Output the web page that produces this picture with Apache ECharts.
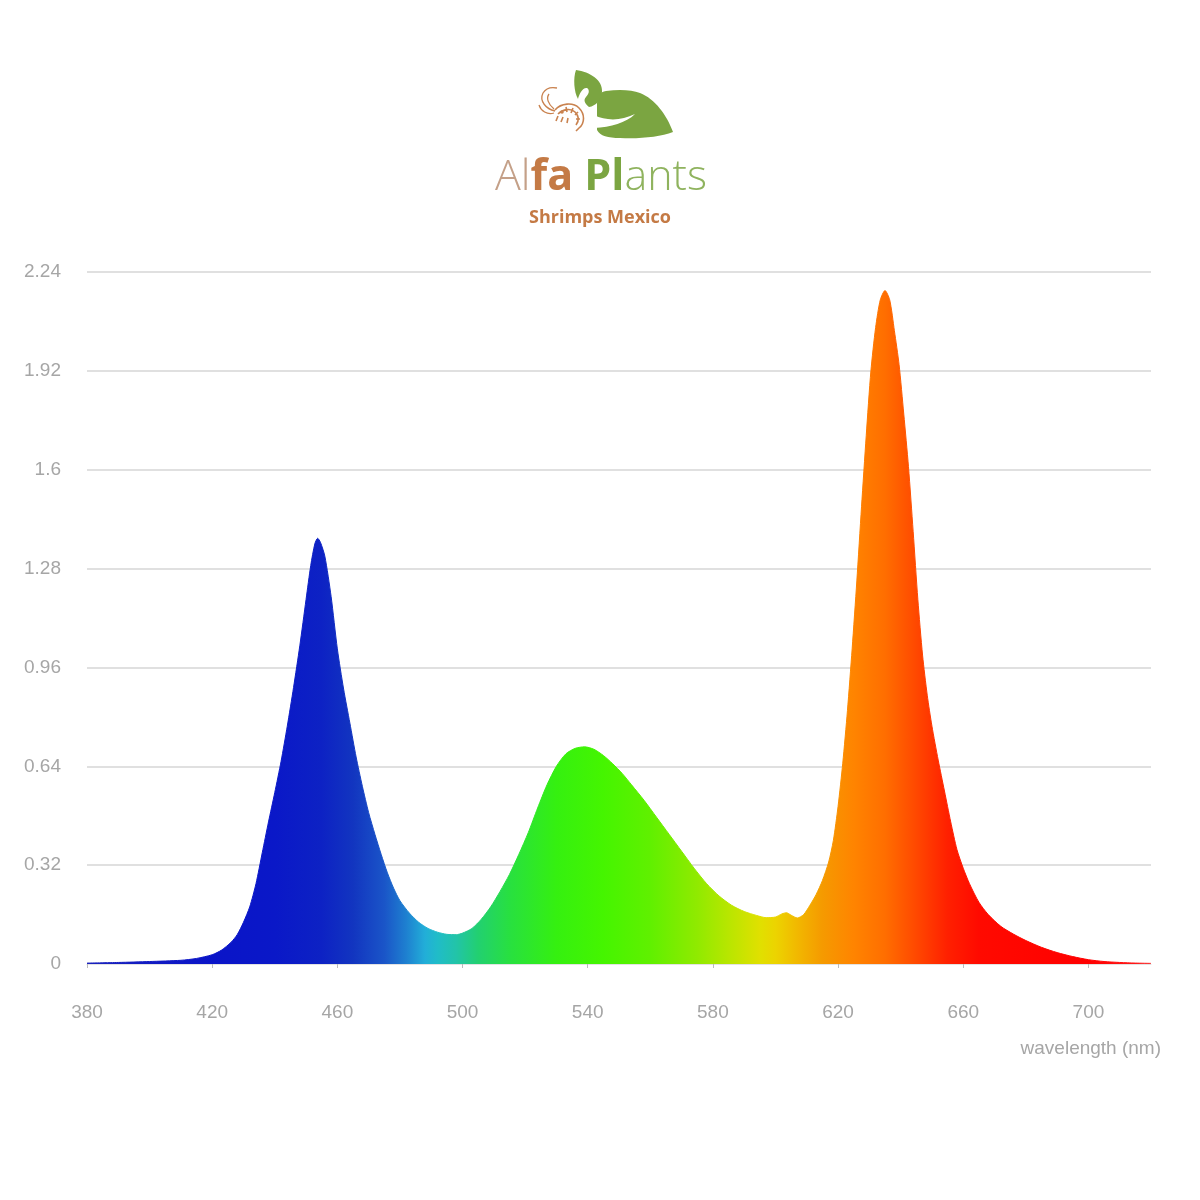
<!DOCTYPE html>
<html>
<head>
<meta charset="utf-8">
<script src="https://cdn.jsdelivr.net/npm/echarts@6/dist/echarts.min.js"></script>
<style>html,body{margin:0;padding:0;background:#fff}#c{width:1200px;height:1200px}</style>
</head>
<body>
<div id="c"></div>
<script>
// Wavelength (nm)
const wavelengths = [380,390,400,410,415,420,423,426,428,430,432,434,436,438,440,442,444,446,448,450,451.5,452.8,453.7,454.6,456,458,460,462,464,466,468,470,472,474,476,478,480,483,486,489,492,495,498,500,503,506,509,512,515,518,521,524,527,530,533,536,539,542,545,548,551,554,558,562,566,570,574,578,582,586,590,594,597,600,602,603.5,605,607,609,611,613,615,617,618.5,620,621.5,623,624.5,626,627.5,629,630.5,632,633.5,635,636.5,638,639.5,641,642.5,644,645.5,647,648.5,650,652,654,656,658,660,662,665,668,672,676,680,685,690,695,700,705,710,715,720];
// Relative intensity
const intensity = [0.003,0.005,0.008,0.012,0.018,0.03,0.045,0.07,0.095,0.135,0.185,0.26,0.36,0.46,0.555,0.655,0.77,0.895,1.03,1.18,1.29,1.36,1.378,1.365,1.32,1.19,1.02,0.89,0.78,0.67,0.575,0.49,0.42,0.355,0.295,0.245,0.205,0.165,0.135,0.115,0.103,0.096,0.095,0.10,0.115,0.145,0.185,0.235,0.29,0.355,0.425,0.505,0.58,0.64,0.68,0.698,0.703,0.695,0.675,0.648,0.617,0.58,0.53,0.475,0.42,0.365,0.31,0.26,0.22,0.19,0.17,0.157,0.15,0.152,0.162,0.166,0.158,0.149,0.16,0.19,0.225,0.27,0.33,0.40,0.51,0.65,0.82,1.02,1.24,1.48,1.71,1.92,2.06,2.15,2.18,2.15,2.05,1.94,1.78,1.61,1.40,1.18,1.00,0.87,0.77,0.66,0.56,0.46,0.37,0.31,0.26,0.20,0.16,0.122,0.097,0.076,0.054,0.037,0.024,0.014,0.008,0.005,0.003,0.002];
const xTickLabels = ['380','420','460','500','540','580','620','660','700'];
const yTickLabels = ['0','0.32','0.64','0.96','1.28','1.6','1.92','2.24'];
// spectrum colour stops (nm, colour)
const stopNm = [380,420,440,455,465,475,482,488,492,498,505,515,530,545,560,575,585,595,600,608,615,625,635,645,655,665,700,720];
const stopColor = ['#1a22bc','#0a14c8','#0a18c8','#0d22c4','#1235c0','#1a55c8','#1e80d0','#22aed8','#20bcc8','#22c4a8','#22d070','#28e040','#35f010','#45f500','#60f000','#90ea00','#b8e600','#e0e000','#ecd400','#f2b400','#f59a00','#ff8400','#ff6e00','#ff4800','#ff2000','#ff0a00','#ff0000','#ff2020'];

const X_MIN = 380, X_MAX = 720;
const data = wavelengths.map((w, i) => [w, intensity[i]]);
const stops = stopNm.map((n, i) => ({offset: (n - X_MIN) / (X_MAX - X_MIN), color: stopColor[i]}));

// logo shapes
const G = echarts.graphic;
G.registerShape('bigLeaf', G.extendPath('M597 104 C597 96 600 92 606 91 C620 89 632 90 640 93 C655 99 667 115 673 132 C660 137 640 139 620 138 C608 138 600 136 597 130 Z', {}));
G.registerShape('leafCut', G.extendPath('M594 115 C606 121 621 121 635 114 C626 123 611 127 594 128 Z', {}));
G.registerShape('smallLeaf', G.extendPath('M576 70 C590 72 603 80 602 92 C601 100 596 106 589 107 C585 104 583 100 586 97 C589 94 590 90 587 88 C583 87 579 94 578 99 C574 92 573 78 576 70 Z', {}));
G.registerShape('shrimpBody', G.extendPath('M555 110 C561 103 573 102 579 108 C585 114 585 123 579 128 L576 131 M558 114 C563 109 571 108 575 112 C579 116 579 121 576 125 M566 107 L567 112 M573 108 L571 113 M578 112 L575 115 M580 119 L576 119 M558 116 L556 121 M563 117 L561 122 M568 118 L567 123', {}));
G.registerShape('shrimpAnt', G.extendPath('M555 111 C546 109 539 101 543 93 C546 88 552 87 557 88 M554 109 C548 104 546 98 549 94 M554 113 C547 115 541 111 539 105', {}));

const chart = echarts.init(document.getElementById('c'));
const labelFont = {color: '#a6a6a6', fontSize: 19, fontFamily: 'Liberation Sans, Arial, sans-serif'};

const option = {
  backgroundColor: '#ffffff',
  animation: false,
  grid: {left: 87, right: 49, top: 272, bottom: 236},
  xAxis: {
    type: 'value', min: X_MIN, max: X_MAX, interval: 40,
    name: 'wavelength (nm)', nameLocation: 'end', nameGap: 10,
    nameTextStyle: Object.assign({}, labelFont, {align: 'right', verticalAlign: 'top', padding: [75, 0, 0, 0]}),
    axisLine: {show: true, lineStyle: {color: '#e2e2e2', width: 1}},
    axisTick: {show: true, length: 4, lineStyle: {color: '#bbbbbb'}},
    splitLine: {show: false},
    axisLabel: Object.assign({}, labelFont, {
      margin: 39, showMaxLabel: false,
      formatter: v => { const i = Math.round((v - X_MIN) / 40); return (Math.abs(v - (X_MIN + i * 40)) < 1e-6 && xTickLabels[i]) ? xTickLabels[i] : ''; }
    })
  },
  yAxis: {
    type: 'value', min: 0, max: 2.24, interval: 0.32,
    axisLine: {show: false}, axisTick: {show: false},
    splitLine: {show: true, lineStyle: {color: '#e0e0e0', width: 2}},
    axisLabel: Object.assign({}, labelFont, {
      margin: 26,
      formatter: v => yTickLabels[Math.round(v / 0.32)] || ''
    })
  },
  series: [{
    type: 'line', data: data, smooth: 0.25, showSymbol: false, symbol: 'none',
    lineStyle: {width: 1, color: new echarts.graphic.LinearGradient(0, 0, 1, 0, stops)},
    areaStyle: {opacity: 1, color: new echarts.graphic.LinearGradient(0, 0, 1, 0, stops)},
    z: 3
  }],
  graphic: [
    {type: 'bigLeaf', shape: {}, style: {fill: '#7ba541'}},
    {type: 'leafCut', shape: {}, style: {fill: '#ffffff'}},
    {type: 'smallLeaf', shape: {}, style: {fill: '#7ba541'}},
    {type: 'shrimpBody', shape: {}, style: {fill: 'none', stroke: '#c9824f', lineWidth: 1.6}},
    {type: 'shrimpAnt', shape: {}, style: {fill: 'none', stroke: '#c9824f', lineWidth: 1.3}},
    {type: 'circle', shape: {cx: 562, cy: 112, r: 1.8}, style: {fill: '#c9824f'}},
    {type: 'text', style: {
      x: 601, y: 178, align: 'center', verticalAlign: 'middle',
      text: '{a|Al}{b|fa}{s| }{c|Pl}{d|ants}',
      rich: {
        a: {fontFamily: 'Open Sans', fontWeight: 300, fontSize: 43, fill: '#c4a088'},
        b: {fontFamily: 'Open Sans', fontWeight: 700, fontSize: 43, fill: '#c47a45'},
        s: {fontFamily: 'Open Sans', fontWeight: 300, fontSize: 43, fill: '#c47a45'},
        c: {fontFamily: 'Open Sans', fontWeight: 700, fontSize: 43, fill: '#7ba541'},
        d: {fontFamily: 'Open Sans', fontWeight: 300, fontSize: 43, fill: '#8fb35e'}
      }
    }},
    {type: 'text', style: {x: 600, y: 218, align: 'center', verticalAlign: 'middle', text: 'Shrimps Mexico', fontFamily: 'Open Sans', fontWeight: 700, fontSize: 18, fill: '#c47a45'}}
  ]
};
chart.setOption(option);
</script>
</body>
</html>
